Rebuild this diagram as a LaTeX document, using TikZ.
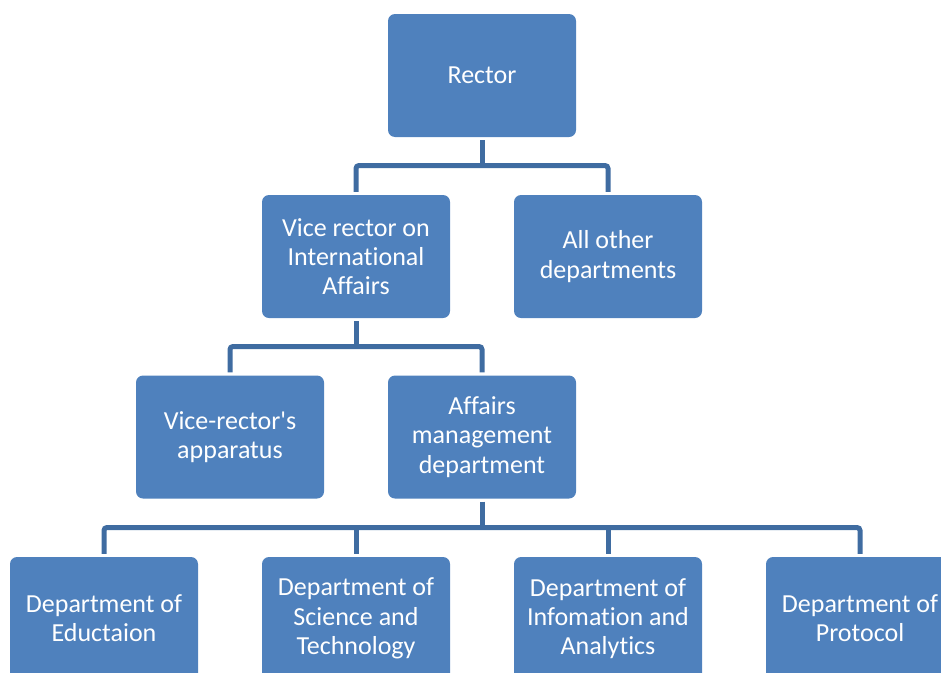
\documentclass[tikz,border=0pt]{standalone}
\usepackage{fontspec}
\setmainfont{Carlito}[Ligatures=NoCommon]
\definecolor{boxblue}{HTML}{4F81BD}
\definecolor{lineblue}{HTML}{3F6CA1}
\begin{document}
\begin{tikzpicture}[x=1pt,y=-1pt,
  orgbox/.style={rectangle, rounded corners=7pt, fill=boxblue, text=white,
    minimum width=188pt, minimum height=123pt, inner sep=0pt, align=center,
    font=\fontsize{26}{29.3}\selectfont},
  conn/.style={draw=lineblue, line width=5pt, rounded corners=3pt}]
\useasboundingbox (0,0) rectangle (941,672);
\clip (0,0) rectangle (941,672);
\node[orgbox] (rector) at (482,75.5) {Rector};
\node[orgbox] (vice) at (356,256.5) {Vice rector on\\International\\Affairs};
\node[orgbox] (other) at (608,256.5) {All other\\departments};
\node[orgbox] (app) at (230,437) {Vice-rector\textquotesingle s\\apparatus};
\node[orgbox] (aff) at (482,437) {Affairs\\management\\department};
\node[orgbox] (d1) at (104,618.5) {Department of\\Eductaion};
\node[orgbox] (d2) at (356,618.5) {Department of\\Science and\\Technology};
\node[orgbox] (d3) at (608,618.5) {Department of\\Infomation and\\Analytics};
\node[orgbox] (d4) at (860,618.5) {Department of\\Protocol};
\coordinate (b1) at (482,165.5);
\coordinate (b2) at (356,346.5);
\coordinate (b3) at (482,527.5);
\draw[conn] ([yshift=3pt]vice.north) |- (b1) -| ([yshift=3pt]other.north);
\draw[conn] ([yshift=-3pt]rector.south) -- (b1);
\draw[conn] ([yshift=3pt]app.north) |- (b2) -| ([yshift=3pt]aff.north);
\draw[conn] ([yshift=-3pt]vice.south) -- (b2);
\draw[conn] ([yshift=3pt]d1.north) |- (b3) -| ([yshift=3pt]d4.north);
\draw[conn] ([yshift=-3pt]aff.south) -- (b3);
\draw[conn] ([yshift=3pt]d2.north) -- (d2.north |- b3);
\draw[conn] ([yshift=3pt]d3.north) -- (d3.north |- b3);
\end{tikzpicture}
\end{document}
